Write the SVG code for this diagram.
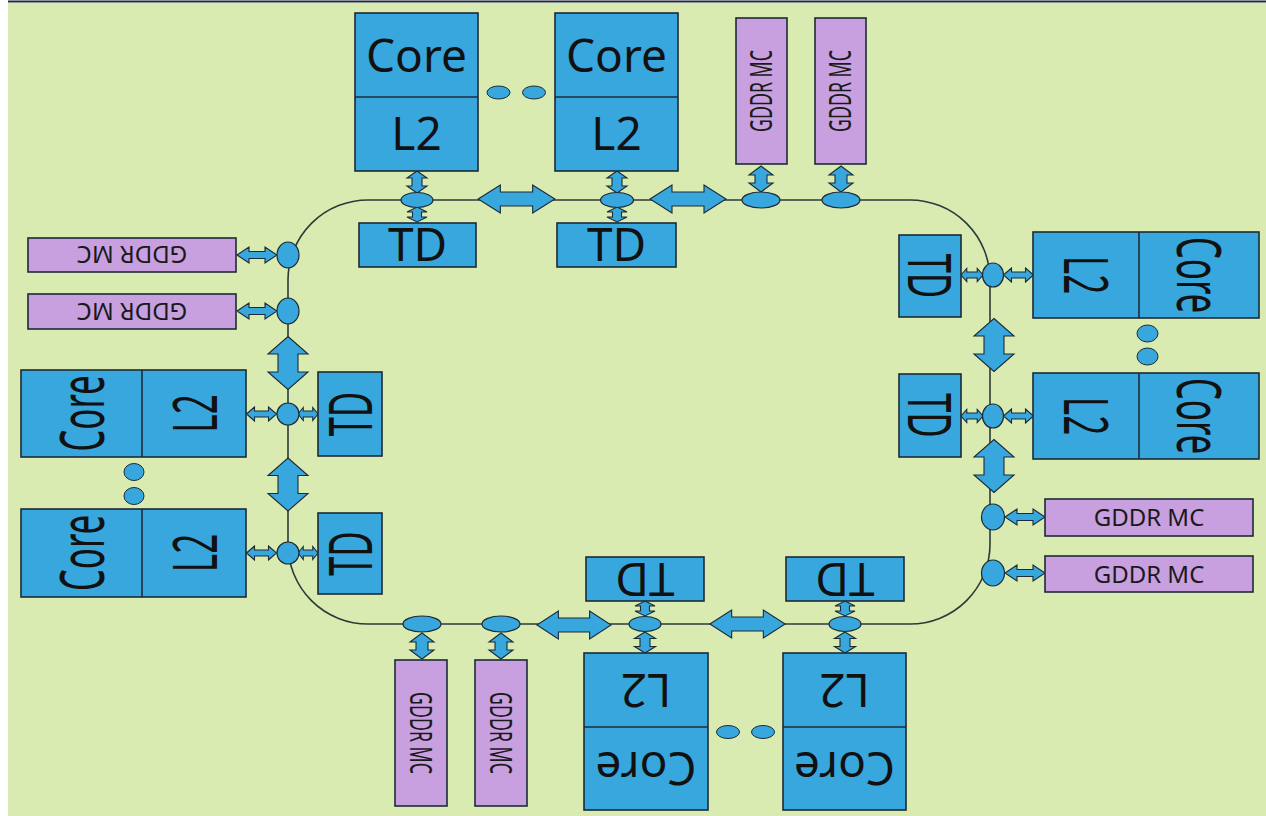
<svg xmlns="http://www.w3.org/2000/svg" xmlns:xlink="http://www.w3.org/1999/xlink" width="1266" height="816" viewBox="0 0 1266 816">
<style>
.bg{fill:#D9EBB0}
.blk{fill:#38A7DD;stroke:#1C2B36;stroke-width:1.6}
.mc{fill:#C8A0E0;stroke:#1C2B36;stroke-width:1.6}
.div{stroke:#1C2B36;stroke-width:1.6;fill:none}
.ring{fill:none;stroke:#2E3A3A;stroke-width:1.6}
.stop{fill:#38A7DD;stroke:#1C2B36;stroke-width:1.2}
.arr{fill:#38A7DD;stroke:#1C2B36;stroke-width:1.1;stroke-linejoin:miter}
.dot{fill:#38A7DD;stroke:#1C2B36;stroke-width:1}
.t{font-family:"Noto Sans","Open Sans","DejaVu Sans",sans-serif;font-size:46px;fill:#111;text-anchor:middle}
.g{font-family:"Noto Sans","Open Sans","DejaVu Sans",sans-serif;font-size:24px;fill:#1a1a1a;text-anchor:middle}
</style>
<defs>
<path id="aBigH" d="M-38,0 L-16,-14 L-16,-7 L16,-7 L16,-14 L38,0 L16,14 L16,7 L-16,7 L-16,14 Z"/>
<path id="aBigV" d="M-26.5,0 L-9,-20 L-9,-10 L9,-10 L9,-20 L26.5,0 L9,20 L9,10 L-9,10 L-9,20 Z"/>
<path id="aGV" d="M-13,0 L-4,-12 L-4,-6 L4,-6 L4,-12 L13,0 L4,12 L4,6 L-4,6 L-4,12 Z"/>
<path id="aCore" d="M-11,0 L-4,-10 L-4,-5 L4,-5 L4,-10 L11,0 L4,10 L4,5 L-4,5 L-4,10 Z"/>
<path id="aTD" d="M-7.5,0 L-2.5,-10 L-2.5,-4.5 L2.5,-4.5 L2.5,-10 L7.5,0 L2.5,10 L2.5,4.5 L-2.5,4.5 L-2.5,10 Z"/>
<path id="aCoreB" d="M-10.5,0 L-4,-10.5 L-4,-5 L4,-5 L4,-10.5 L10.5,0 L4,10.5 L4,5 L-4,5 L-4,10.5 Z"/>
<path id="aGH" d="M-20,0 L-8,-8 L-8,-3.5 L8,-3.5 L8,-8 L20,0 L8,8 L8,3.5 L-8,3.5 L-8,8 Z"/>
<path id="aCoreH" d="M-15,0 L-7,-7 L-7,-3 L7,-3 L7,-7 L15,0 L7,7 L7,3 L-7,3 L-7,7 Z"/>
<path id="aTDH" d="M-10.5,0 L-5,-6.5 L-5,-3 L5,-3 L5,-6.5 L10.5,0 L5,6.5 L5,3 L-5,3 L-5,6.5 Z"/>
</defs>

<rect x="0" y="0" width="1266" height="816" fill="#ffffff"/>
<rect class="bg" x="8" y="3" width="1258" height="813"/>
<line x1="8" y1="1.5" x2="1266" y2="1.5" stroke="#1C2B36" stroke-width="2"/>

<g id="connectors">
<path class="ring" d="M368,200 L910,200 A80,80 0 0 1 990,280 L990,544 A80,80 0 0 1 910,624 L368,624 A80,80 0 0 1 288,544 L288,280 A80,80 0 0 1 368,200 Z"/>
<!-- top -->
<use href="#aCore" class="arr" transform="translate(417,182) rotate(90)"/>
<use href="#aTD" class="arr" transform="translate(417,214.5) rotate(90)"/>
<use href="#aCore" class="arr" transform="translate(617,182) rotate(90)"/>
<use href="#aTD" class="arr" transform="translate(617,214.5) rotate(90)"/>
<use href="#aGV" class="arr" transform="translate(761,179) rotate(90)"/>
<use href="#aGV" class="arr" transform="translate(841,179) rotate(90)"/>
<use href="#aBigH" class="arr" transform="translate(516.5,199) scale(1.01,1)"/>
<use href="#aBigH" class="arr" transform="translate(688,199)"/>
<!-- left -->
<use href="#aGH" class="arr" transform="translate(257,255)"/>
<use href="#aGH" class="arr" transform="translate(257,311)"/>
<use href="#aBigV" class="arr" transform="translate(288,363) rotate(90)"/>
<use href="#aBigV" class="arr" transform="translate(288,484.5) rotate(90)"/>
<use href="#aCoreH" class="arr" transform="translate(261.5,414)"/>
<use href="#aCoreH" class="arr" transform="translate(261.5,553)"/>
<use href="#aTDH" class="arr" transform="translate(308,414) scale(0.95,1)"/>
<use href="#aTDH" class="arr" transform="translate(308,553) scale(0.95,1)"/>
<!-- right -->
<use href="#aTDH" class="arr" transform="translate(972,275) scale(1.05,1)"/>
<use href="#aTDH" class="arr" transform="translate(972,416) scale(1.05,1)"/>
<use href="#aCoreH" class="arr" transform="translate(1018.5,275)"/>
<use href="#aCoreH" class="arr" transform="translate(1018.5,416)"/>
<use href="#aBigV" class="arr" transform="translate(994,345) rotate(90)"/>
<use href="#aBigV" class="arr" transform="translate(994,466) rotate(90)"/>
<use href="#aGH" class="arr" transform="translate(1025,517)"/>
<use href="#aGH" class="arr" transform="translate(1025,573)"/>
<!-- bottom -->
<use href="#aGV" class="arr" transform="translate(422,646) rotate(90)"/>
<use href="#aGV" class="arr" transform="translate(501,646) rotate(90)"/>
<use href="#aBigH" class="arr" transform="translate(574,625) scale(0.975,1)"/>
<use href="#aBigH" class="arr" transform="translate(747.5,624) scale(0.99,1)"/>
<use href="#aTD" class="arr" transform="translate(645,608.5) rotate(90)"/>
<use href="#aTD" class="arr" transform="translate(845,608.5) rotate(90)"/>
<use href="#aCoreB" class="arr" transform="translate(645,642.5) rotate(90)"/>
<use href="#aCoreB" class="arr" transform="translate(845,642.5) rotate(90)"/>
</g>

<g id="ring-stops">
<ellipse class="stop" cx="417" cy="200" rx="16" ry="7.5"/>
<ellipse class="stop" cx="617" cy="200" rx="16.5" ry="7.5"/>
<ellipse class="stop" cx="761" cy="200" rx="19" ry="8"/>
<ellipse class="stop" cx="841" cy="200" rx="19" ry="8"/>
<ellipse class="stop" cx="288" cy="255" rx="11" ry="13"/>
<ellipse class="stop" cx="288" cy="311" rx="11" ry="13"/>
<ellipse class="stop" cx="288" cy="414" rx="11" ry="11"/>
<ellipse class="stop" cx="288" cy="553" rx="11" ry="11"/>
<ellipse class="stop" cx="993" cy="275" rx="10.5" ry="12"/>
<ellipse class="stop" cx="993" cy="416" rx="10.5" ry="12"/>
<ellipse class="stop" cx="993" cy="517" rx="11.5" ry="13"/>
<ellipse class="stop" cx="993" cy="573" rx="11.5" ry="13"/>
<ellipse class="stop" cx="422" cy="624" rx="19" ry="8"/>
<ellipse class="stop" cx="501" cy="624" rx="19" ry="8"/>
<ellipse class="stop" cx="645" cy="624" rx="16" ry="7.5"/>
<ellipse class="stop" cx="845" cy="624" rx="16" ry="7.5"/>
</g>

<!-- top cores -->
<g id="core-top-1">
<rect class="blk" x="355" y="13" width="123" height="158"/>
<line class="div" x1="355" y1="97" x2="478" y2="97"/>
<text class="t" x="416.5" y="72">Core</text>
<text class="t" x="416.5" y="150">L2</text>
</g>
<g id="core-top-2">
<rect class="blk" x="555" y="13" width="123" height="158"/>
<line class="div" x1="555" y1="97" x2="678" y2="97"/>
<text class="t" x="616.5" y="72">Core</text>
<text class="t" x="616.5" y="150">L2</text>
</g>
<g id="dots-top">
<ellipse class="dot" cx="498.5" cy="92.5" rx="11.5" ry="6.5"/>
<ellipse class="dot" cx="534" cy="92.5" rx="11.5" ry="6.5"/>
</g>
<g id="td-top-1">
<rect class="blk" x="359" y="223" width="117" height="44"/>
<text class="t" x="417.5" y="261">TD</text>
</g>
<g id="td-top-2">
<rect class="blk" x="557" y="223" width="119" height="44"/>
<text class="t" x="616.5" y="261">TD</text>
</g>
<g id="mc-top-1">
<rect class="mc" x="736" y="18" width="51" height="146"/>
<text class="g" transform="translate(761.5,91) rotate(-90) scale(0.74,1.25)" x="0" y="8.6">GDDR MC</text>
</g>
<g id="mc-top-2">
<rect class="mc" x="815" y="18" width="51" height="146"/>
<text class="g" transform="translate(840.5,91) rotate(-90) scale(0.74,1.25)" x="0" y="8.6">GDDR MC</text>
</g>

<!-- left side -->
<g id="mc-left-1">
<rect class="mc" x="28" y="238" width="208" height="34"/>
<text class="g" transform="translate(132,255) rotate(180)" x="0" y="8.6">GDDR MC</text>
</g>
<g id="mc-left-2">
<rect class="mc" x="28" y="294" width="208" height="35"/>
<text class="g" transform="translate(132,311.5) rotate(180)" x="0" y="8.6">GDDR MC</text>
</g>
<g id="core-left-1">
<rect class="blk" x="21" y="370" width="225" height="87"/>
<line class="div" x1="142" y1="370" x2="142" y2="457"/>
<text class="t" transform="translate(82,413.5) rotate(-90) scale(0.76,1.35)" x="0" y="16.4">Core</text>
<text class="t" transform="translate(195,413.5) rotate(-90) scale(0.76,1.35)" x="0" y="16.4">L2</text>
</g>
<g id="core-left-2">
<rect class="blk" x="21" y="509" width="225" height="88"/>
<line class="div" x1="142" y1="509" x2="142" y2="597"/>
<text class="t" transform="translate(82,553) rotate(-90) scale(0.76,1.35)" x="0" y="16.4">Core</text>
<text class="t" transform="translate(195,553) rotate(-90) scale(0.76,1.35)" x="0" y="16.4">L2</text>
</g>
<g id="dots-left">
<ellipse class="dot" cx="134" cy="472" rx="10" ry="8.5"/>
<ellipse class="dot" cx="134" cy="496" rx="10" ry="8.5"/>
</g>
<g id="td-left-1">
<rect class="blk" x="318" y="372" width="64" height="84"/>
<text class="t" transform="translate(350.5,414) rotate(-90) scale(0.75,1.32)" x="0" y="16.4">TD</text>
</g>
<g id="td-left-2">
<rect class="blk" x="318" y="513" width="64" height="81"/>
<text class="t" transform="translate(350.5,553.5) rotate(-90) scale(0.75,1.32)" x="0" y="16.4">TD</text>
</g>

<!-- right side -->
<g id="td-right-1">
<rect class="blk" x="899" y="235" width="62" height="82"/>
<text class="t" transform="translate(930,276) rotate(90) scale(0.75,1.32)" x="0" y="16.4">TD</text>
</g>
<g id="td-right-2">
<rect class="blk" x="899" y="374" width="62" height="83"/>
<text class="t" transform="translate(930,415.5) rotate(90) scale(0.75,1.32)" x="0" y="16.4">TD</text>
</g>
<g id="core-right-1">
<rect class="blk" x="1033" y="232" width="226" height="86"/>
<line class="div" x1="1139" y1="232" x2="1139" y2="318"/>
<text class="t" transform="translate(1086,275) rotate(90) scale(0.76,1.35)" x="0" y="16.4">L2</text>
<text class="t" transform="translate(1199,275) rotate(90) scale(0.76,1.35)" x="0" y="16.4">Core</text>
</g>
<g id="core-right-2">
<rect class="blk" x="1033" y="373" width="226" height="86"/>
<line class="div" x1="1139" y1="373" x2="1139" y2="459"/>
<text class="t" transform="translate(1086,416) rotate(90) scale(0.76,1.35)" x="0" y="16.4">L2</text>
<text class="t" transform="translate(1199,416) rotate(90) scale(0.76,1.35)" x="0" y="16.4">Core</text>
</g>
<g id="dots-right">
<ellipse class="dot" cx="1147.5" cy="333.5" rx="10.5" ry="8.5"/>
<ellipse class="dot" cx="1147.5" cy="356.5" rx="10.5" ry="8.5"/>
</g>
<g id="mc-right-1">
<rect class="mc" x="1045" y="499" width="208" height="37"/>
<text class="g" x="1149" y="526">GDDR MC</text>
</g>
<g id="mc-right-2">
<rect class="mc" x="1045" y="556" width="208" height="36"/>
<text class="g" x="1149" y="582.6">GDDR MC</text>
</g>

<!-- bottom -->
<g id="mc-bottom-1">
<rect class="mc" x="395" y="660" width="52" height="146"/>
<text class="g" transform="translate(421,733) rotate(90) scale(0.74,1.25)" x="0" y="8.6">GDDR MC</text>
</g>
<g id="mc-bottom-2">
<rect class="mc" x="475" y="660" width="52" height="146"/>
<text class="g" transform="translate(501,733) rotate(90) scale(0.74,1.25)" x="0" y="8.6">GDDR MC</text>
</g>
<g id="td-bottom-1">
<rect class="blk" x="586" y="557" width="118" height="44"/>
<text class="t" transform="translate(645,579) rotate(180)" x="0" y="16.4">TD</text>
</g>
<g id="td-bottom-2">
<rect class="blk" x="786" y="557" width="118" height="44"/>
<text class="t" transform="translate(845,579) rotate(180)" x="0" y="16.4">TD</text>
</g>
<g id="core-bottom-1">
<rect class="blk" x="584" y="653" width="124" height="157"/>
<line class="div" x1="584" y1="727" x2="708" y2="727"/>
<text class="t" transform="translate(646,690) rotate(180)" x="0" y="16.4">L2</text>
<text class="t" transform="translate(646,768.5) rotate(180)" x="0" y="16.4">Core</text>
</g>
<g id="core-bottom-2">
<rect class="blk" x="783" y="653" width="123" height="157"/>
<line class="div" x1="783" y1="727" x2="906" y2="727"/>
<text class="t" transform="translate(844.5,690) rotate(180)" x="0" y="16.4">L2</text>
<text class="t" transform="translate(844.5,768.5) rotate(180)" x="0" y="16.4">Core</text>
</g>
<g id="dots-bottom">
<ellipse class="dot" cx="728" cy="732" rx="11.5" ry="6.5"/>
<ellipse class="dot" cx="763" cy="732" rx="11.5" ry="6.5"/>
</g>
</svg>
